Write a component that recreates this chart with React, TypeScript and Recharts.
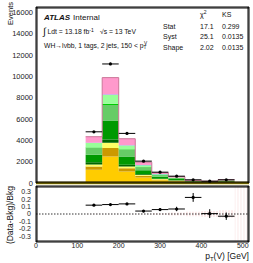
import React from "react";
import {
  ComposedChart,
  Area,
  Scatter,
  ErrorBar,
  XAxis,
  YAxis,
  ReferenceLine,
  ReferenceArea,
} from "recharts";

// bins of pT(V), 40 GeV wide
const binCenters = [140, 180, 220, 260, 300, 340, 380, 420, 460];
const binHalfWidth = 20;

// stacked backgrounds, bottom to top
const ttbar = [1240, 2490, 1080, 520, 260, 165, 70, 45, 85];
const stopT = [310, 780, 310, 150, 70, 45, 18, 12, 22];
const stopWt = [190, 505, 160, 80, 40, 25, 10, 7, 12];
const wbb = [215, 310, 160, 70, 35, 25, 10, 7, 12];
const wbc = [695, 1785, 780, 370, 190, 115, 48, 35, 60];
const wbl = [620, 1435, 630, 290, 140, 90, 35, 25, 45];
const wcc = [50, 135, 50, 25, 12, 8, 3, 2, 4];
const wl = [420, 805, 350, 160, 80, 45, 18, 13, 25];
const zjets = [30, 60, 30, 15, 8, 5, 3, 2, 4];
const multijet = [570, 1575, 600, 270, 125, 77, 30, 20, 36];

const dataEvents = [4800, 11160, 4650, 2050, 1015, 640, 300, 170, 300];
const dataErr = [69, 106, 68, 45, 32, 25, 17, 13, 17];

const ratioValues = [0.12, 0.128, 0.137, 0.04, 0.06, 0.068, 0.225, 0.005, -0.03];
const ratioErr = [0.01, 0.008, 0.01, 0.015, 0.02, 0.03, 0.06, 0.06, 0.05];
const bandErr = [0.003, 0.002, 0.003, 0.005, 0.01, 0.02, 0.03, 0.04, 0.05];

const xDomain = [0, 515];
const xMajorTicks = [0, 100, 200, 300, 400, 500];
const xMinorTicks = Array.from({ length: 26 }, (_, i) => i * 20);
const yMajorTicks = [0, 2000, 4000, 6000, 8000, 10000, 12000, 14000, 16000];
const yMinorTicks = Array.from({ length: 33 }, (_, i) => i * 500);
const ratioTicks = [-0.3, -0.2, -0.1, 0, 0.1, 0.2, 0.3];
const ratioMinor = [-0.35, -0.25, -0.15, -0.05, 0.05, 0.15, 0.25, 0.35];

const samples = [
  { name: "ttbar", values: ttbar, fill: "#ffcc00" },
  { name: "stopt", values: stopT, fill: "#cc9900" },
  { name: "stopWt", values: stopWt, fill: "#ffff66" },
  { name: "Wbb", values: wbb, fill: "#006600" },
  { name: "Wbc", values: wbc, fill: "#009900" },
  { name: "Wbl", values: wbl, fill: "#66cc66" },
  { name: "Wcc", values: wcc, fill: "#00cc00" },
  { name: "Wl", values: wl, fill: "#99ff99" },
  { name: "Zjets", values: zjets, fill: "#3399ff" },
  { name: "MJ", values: multijet, fill: "#ff99cc", stroke: "#cc7799" },
];

const edges = [
  ...binCenters.map((c) => c - binHalfWidth),
  binCenters[binCenters.length - 1] + binHalfWidth,
];
const stackRows = edges.map((x, i) => {
  const j = Math.min(i, binCenters.length - 1);
  const row: any = { x, band: [-bandErr[j], bandErr[j]] };
  samples.forEach((s) => (row[s.name] = s.values[j]));
  return row;
});

const dataPoints = binCenters.map((x, i) => ({
  x,
  y: dataEvents[i],
  ex: binHalfWidth,
  ey: dataErr[i],
}));
const ratioPoints = binCenters.map((x, i) => ({
  x,
  y: ratioValues[i],
  ex: binHalfWidth,
  ey: ratioErr[i],
}));

const dot = (p: any) => <circle cx={p.cx} cy={p.cy} r={1.6} fill="#000" />;

// ROOT-style frame: inward ticks on all four sides
function frameAxes(p: string, yDomain: number[], yMajor: number[], yMinor: number[]) {
  const c = {
    type: "number" as const,
    allowDataOverflow: true,
    interval: 0 as const,
    tick: false,
    stroke: "#000",
    mirror: true,
  };
  return [
    <XAxis key={p + "xb"} xAxisId={p + "xb"} orientation="bottom" domain={xDomain} ticks={xMajorTicks} tickSize={5} height={1} {...c} />,
    <XAxis key={p + "xbm"} xAxisId={p + "xbm"} orientation="bottom" domain={xDomain} ticks={xMinorTicks} tickSize={2.5} height={1} {...c} />,
    <XAxis key={p + "xt"} xAxisId={p + "xt"} orientation="top" domain={xDomain} ticks={xMajorTicks} tickSize={5} height={1} {...c} />,
    <XAxis key={p + "xtm"} xAxisId={p + "xtm"} orientation="top" domain={xDomain} ticks={xMinorTicks} tickSize={2.5} height={1} {...c} />,
    <YAxis key={p + "yl"} yAxisId={p + "yl"} orientation="left" domain={yDomain} ticks={yMajor} tickSize={6} width={1} {...c} />,
    <YAxis key={p + "ylm"} yAxisId={p + "ylm"} orientation="left" domain={yDomain} ticks={yMinor} tickSize={3} width={1} {...c} />,
    <YAxis key={p + "yr"} yAxisId={p + "yr"} orientation="right" domain={yDomain} ticks={yMajor} tickSize={6} width={1} {...c} />,
    <YAxis key={p + "yrm"} yAxisId={p + "yrm"} orientation="right" domain={yDomain} ticks={yMinor} tickSize={3} width={1} {...c} />,
  ];
}

const labelTick = { fontSize: 7.5, fill: "#222" };

export default function App() {
  return (
    <div
      style={{
        position: "absolute",
        left: 0,
        top: 0,
        width: 253,
        height: 263,
        background: "#fff",
        fontFamily: "'Liberation Sans', Arial, sans-serif",
      }}
    >
      <svg width={0} height={0} style={{ position: "absolute" }}>
        <defs>
          <pattern id="hatch" width="3" height="3" patternUnits="userSpaceOnUse">
            <line x1="1" y1="0" x2="1" y2="3" stroke="#f6c4c4" strokeWidth="0.7" />
          </pattern>
        </defs>
      </svg>

      <div style={{ position: "absolute", left: 0, top: 0 }}>
        <ComposedChart
          width={253}
          height={190}
          data={stackRows}
          margin={{ top: 7, right: 4, bottom: 7, left: 0 }}
        >
          <XAxis xAxisId="m" dataKey="x" type="number" domain={xDomain} allowDataOverflow hide />
          <YAxis
            yAxisId="m"
            type="number"
            domain={[0, 16500]}
            allowDataOverflow
            ticks={yMajorTicks}
            interval={0}
            width={36}
            tickLine={false}
            axisLine={false}
            tickSize={0}
            tickMargin={3}
            tick={labelTick}
          />
          {samples.map((s) => (
            <Area
              key={s.name}
              xAxisId="m"
              yAxisId="m"
              dataKey={s.name}
              stackId="bkg"
              type="stepAfter"
              fill={s.fill}
              fillOpacity={1}
              stroke={s.stroke ?? "none"}
              strokeWidth={1}
              dot={false}
              activeDot={false}
              isAnimationActive={false}
            />
          ))}
          <ReferenceLine xAxisId="m" yAxisId="m" y={0} stroke="#c8b400" strokeWidth={2.5} />
          <Scatter
            xAxisId="m"
            yAxisId="m"
            data={dataPoints}
            dataKey="y"
            shape={dot}
            isAnimationActive={false}
          >
            <ErrorBar dataKey="ex" direction="x" width={0} stroke="#000" strokeWidth={1} />
            <ErrorBar dataKey="ey" direction="y" width={0} stroke="#000" strokeWidth={1} />
          </Scatter>
          {frameAxes("t", [0, 16500], yMajorTicks, yMinorTicks)}
        </ComposedChart>
      </div>

      <div style={{ position: "absolute", left: 0, top: 185 }}>
        <ComposedChart
          width={253}
          height={78}
          data={stackRows}
          margin={{ top: 1, right: 4, bottom: 0, left: 0 }}
        >
          <XAxis
            xAxisId="m"
            dataKey="x"
            type="number"
            domain={xDomain}
            allowDataOverflow
            ticks={xMajorTicks}
            interval={0}
            height={21}
            tickLine={false}
            axisLine={false}
            tickSize={0}
            tickMargin={1}
            tick={{ fontSize: 7, fill: "#222" }}
          />
          <YAxis
            yAxisId="m"
            type="number"
            domain={[-0.38, 0.38]}
            allowDataOverflow
            ticks={ratioTicks}
            interval={0}
            width={36}
            tickLine={false}
            axisLine={false}
            tickSize={0}
            tickMargin={5}
            tick={{ fontSize: 7, fill: "#222" }}
          />
          <ReferenceArea xAxisId="m" yAxisId="m" x1={480} x2={515} y1={-0.38} y2={0.38} fill="url(#hatch)" stroke="none" />
          <Area
            xAxisId="m"
            yAxisId="m"
            dataKey="band"
            type="stepAfter"
            fill="url(#hatch)"
            fillOpacity={1}
            stroke="none"
            dot={false}
            activeDot={false}
            isAnimationActive={false}
          />
          <ReferenceLine xAxisId="m" yAxisId="m" y={0} stroke="#000" strokeWidth={0.8} strokeDasharray="1.5 1.5" />
          <Scatter
            xAxisId="m"
            yAxisId="m"
            data={ratioPoints}
            dataKey="y"
            shape={dot}
            isAnimationActive={false}
          >
            <ErrorBar dataKey="ex" direction="x" width={0} stroke="#000" strokeWidth={1} />
            <ErrorBar dataKey="ey" direction="y" width={0} stroke="#000" strokeWidth={1} />
          </Scatter>
          {frameAxes("r", [-0.38, 0.38], ratioTicks, ratioMinor)}
        </ComposedChart>
      </div>

      <svg
        width={253}
        height={263}
        style={{ position: "absolute", left: 0, top: 0, pointerEvents: "none" }}
        fontFamily="'Liberation Sans', Arial, sans-serif"
        fill="#111"
      >
        <text transform="translate(13,2) rotate(-90)" textAnchor="end" fontSize={7.5}>
          Events
        </text>
        <text transform="translate(12.5,186) rotate(-90)" textAnchor="end" fontSize={8.5}>
          (Data-Bkg)/Bkg
        </text>
        <text x={249} y={259} textAnchor="end" fontSize={8.5}>
          p<tspan fontSize={6} dy={1.5}>T</tspan>
          <tspan dy={-1.5}>(V) [GeV]</tspan>
        </text>

        <text x={44} y={20} fontSize={8}>
          <tspan fontWeight="bold" fontStyle="italic">ATLAS</tspan>
          <tspan dx={3}>Internal</tspan>
        </text>
        <text x={43} y={35} fontSize={10}>∫</text>
        <text x={47.5} y={34} fontSize={6.8}>
          Ldt = 13.18 fb<tspan fontSize={5} dy={-2.5}>-1</tspan>
        </text>
        <text x={100} y={34} fontSize={6.8}>
          √s = 13 TeV
        </text>
        <text x={44} y={47.5} fontSize={6.8}>
          WH→lνbb, 1 tags, 2 jets, 150 &lt; p<tspan fontSize={4.8} dy={1.5}>T</tspan>
          <tspan fontSize={4.8} dx={-2.6} dy={-4.5}>V</tspan>
        </text>

        <text x={200} y={16.5} fontSize={7}>
          χ<tspan fontSize={5} dy={-2.5}>2</tspan>
        </text>
        <text x={222} y={16.5} fontSize={7}>KS</text>
        <text x={163} y={28.5} fontSize={7}>Stat</text>
        <text x={200} y={28.5} fontSize={7}>17.1</text>
        <text x={222} y={28.5} fontSize={7}>0.299</text>
        <text x={163} y={39} fontSize={7}>Syst</text>
        <text x={200} y={39} fontSize={7}>25.1</text>
        <text x={222} y={39} fontSize={7}>0.0135</text>
        <text x={163} y={49.5} fontSize={7}>Shape</text>
        <text x={200} y={49.5} fontSize={7}>2.02</text>
        <text x={222} y={49.5} fontSize={7}>0.0135</text>
      </svg>
    </div>
  );
}
